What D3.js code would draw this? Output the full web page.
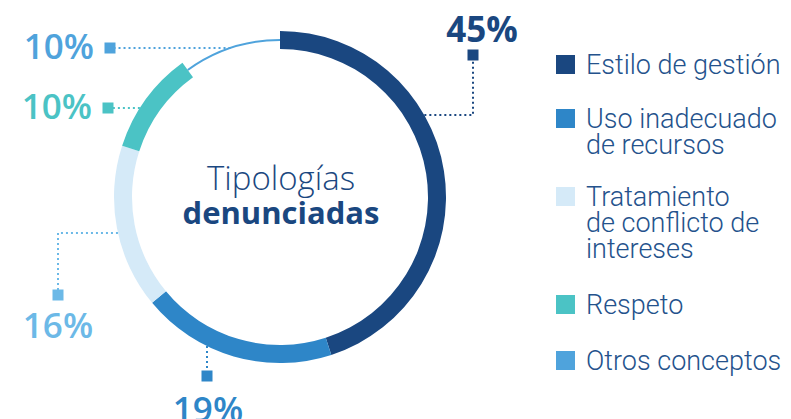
<html>
  <head>
    <style>
      body { margin: 0; background: #fff; }
      #vis { width: 791px; height: 419px; overflow: hidden; }
    </style>
  </head>
  <body>
    <div id="vis"></div>
    <script src="https://d3js.org/d3.v7.min.js"></script>
    <script>
      // datos
      const categories = ['Estilo de gestión', 'Uso inadecuado de recursos', 'Tratamiento de conflicto de intereses', 'Respeto', 'Otros conceptos']
      const values = [45, 19, 16, 10, 10]
      const legendLines = [['Estilo de gestión'], ['Uso inadecuado', 'de recursos'], ['Tratamiento', 'de conflicto de', 'intereses'], ['Respeto'], ['Otros conceptos']]
      const colors = ['#1a4780', '#2e86c8', '#d5eaf8', '#4bc3c5', '#4fa3dc']
      const labelColors = ['#1a4780', '#2e86c8', '#6cb9e7', '#4bc3c5', '#4fa3dc']

      const width = 791, height = 419,
            cx = 280, cy = 197,
            rOuter = 166, rInner = 148

      const svg = d3.select('#vis').append('svg').attr('width', width).attr('height', height)

      const pie = d3.pie().sort(null).value(d => d)
      const arcs = pie(values)

      const arcThick = d3.arc().innerRadius(rInner).outerRadius(rOuter)
      const arcThin = d3.arc().innerRadius((rInner + rOuter) / 2 - 1).outerRadius((rInner + rOuter) / 2 + 1)

      const g = svg.append('g').attr('transform', 'translate(' + cx + ',' + cy + ')')
      g.selectAll('path')
        .data(arcs)
        .join('path')
        .attr('d', (d, i) => i === 4 ? arcThin(d) : arcThick(d))
        .attr('fill', (d, i) => colors[i])

      // etiquetas: posición del cuadrado y del tramo del conector
      // hy = altura del tramo horizontal, vx = x del tramo vertical
      const rMid = (rInner + rOuter) / 2
      const labelLayout = [
        {sq: [473, 55], hy: 115, side: 1, text: [482, 42], anchor: 'middle', weight: 700},
        {sq: [207, 376], vx: 207, text: [208, 422], anchor: 'middle', weight: 600},
        {sq: [58, 295], hy: 233, side: -1, text: [58, 338], anchor: 'middle', weight: 600},
        {sq: [108, 108], hy: 108, side: -1, flat: true, text: [92, 119], anchor: 'end', weight: 600},
        {sq: [110, 48], hy: 48, side: -1, flat: true, thin: true, text: [94, 59], anchor: 'end', weight: 600}
      ]

      const lbl = svg.append('g')
      labelLayout.forEach((L, i) => {
        let pts
        if (L.vx !== undefined) {
          const dx = L.vx - cx
          const y0 = cy + Math.sqrt(rOuter * rOuter - dx * dx)
          pts = [[L.vx, y0], [L.vx, L.sq[1]]]
        } else {
          const r = L.thin ? rMid : rOuter
          const dy = L.hy - cy
          const x0 = cx + L.side * Math.sqrt(r * r - dy * dy)
          pts = L.flat ? [[x0, L.hy], [L.sq[0], L.hy]] : [[x0, L.hy], [L.sq[0], L.hy], [L.sq[0], L.sq[1]]]
        }
        lbl.append('path')
          .attr('d', d3.line()(pts))
          .attr('fill', 'none')
          .attr('stroke', labelColors[i])
          .attr('stroke-width', 2)
          .attr('stroke-dasharray', '2,3')
        lbl.append('rect')
          .attr('x', L.sq[0] - 5.5).attr('y', L.sq[1] - 5.5)
          .attr('width', 11).attr('height', 11)
          .attr('fill', labelColors[i])
        lbl.append('text')
          .text(values[i] + '%')
          .attr('x', L.text[0]).attr('y', L.text[1])
          .attr('text-anchor', L.anchor)
          .attr('font-family', 'Open Sans')
          .attr('font-weight', L.weight)
          .attr('font-size', 35)
          .attr('fill', labelColors[i])
      })

      // texto central
      svg.append('text').text('Tipologías')
        .attr('x', cx + 1).attr('y', 190)
        .attr('text-anchor', 'middle')
        .attr('font-family', 'Open Sans').attr('font-weight', 300)
        .attr('font-size', 33).attr('fill', '#1a4780')
      svg.append('text').text('denunciadas')
        .attr('x', cx + 1).attr('y', 224)
        .attr('text-anchor', 'middle')
        .attr('font-family', 'Open Sans').attr('font-weight', 700)
        .attr('font-size', 31).attr('fill', '#1a4780')

      // leyenda
      const legendY = [74, 128, 206, 314, 370]
      const leg = svg.append('g')
      legendLines.forEach((lines, i) => {
        leg.append('rect')
          .attr('x', 556).attr('y', legendY[i] - 19)
          .attr('width', 19).attr('height', 19)
          .attr('fill', colors[i])
        const t = leg.append('text')
          .attr('x', 586).attr('y', legendY[i])
          .attr('font-family', 'Roboto').attr('font-weight', 300)
          .attr('font-size', 27).attr('fill', '#24528c')
        lines.forEach((s, j) => {
          t.append('tspan').attr('x', 586).attr('dy', j === 0 ? 0 : 26).text(s)
        })
      })
    </script>
  </body>
</html>
